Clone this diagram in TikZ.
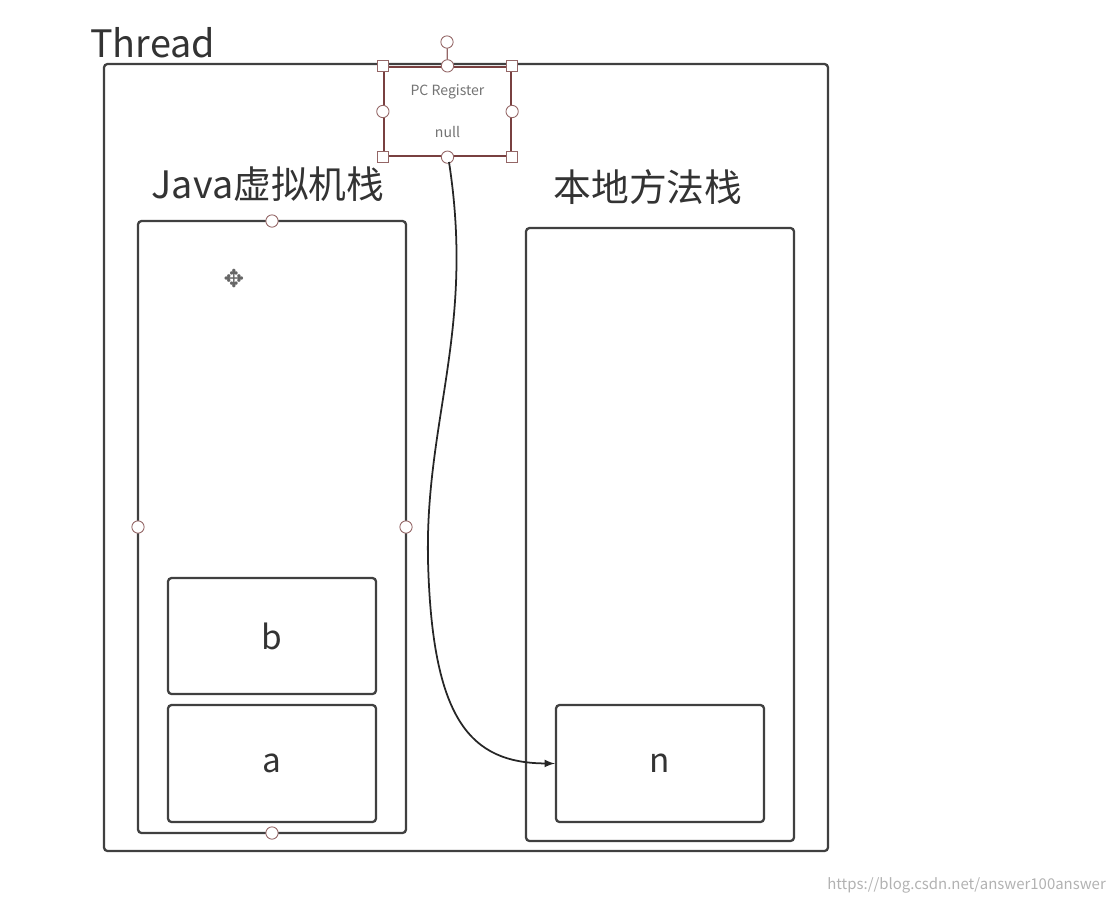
\documentclass[tikz,border=0pt]{standalone}
\usepackage{fontspec}
\setmainfont{Noto Sans CJK SC}
\newfontfamily\symfont{DejaVu Sans}
\begin{document}
\begin{tikzpicture}[x=0.02cm,y=-0.02cm,
  box/.style={draw=black!75,line width=1.3pt,rounded corners=2pt},
  hc/.style={draw=red!30!black!60,fill=white,line width=0.5pt,circle,inner sep=0pt,minimum size=7pt},
  hs/.style={draw=red!30!black!60,fill=white,line width=0.5pt,rectangle,inner sep=0pt,minimum size=6pt},
  lbl/.style={font=\fontsize{19}{20}\selectfont,text=black!80},
  big/.style={font=\fontsize{21.5}{24}\selectfont,text=black!80}]
\useasboundingbox (0,0) rectangle (1120,904);
\draw[box] (104,64) rectangle (828,851);
\node[anchor=south west,inner sep=0pt,font=\fontsize{21.5}{24}\selectfont,text=black!80] (thr) at (90,58) {Thread};
\draw[box] (138,221) rectangle (406,833);
\node[big] (jl) at (268,184) {Java虚拟机栈};
\draw[box] (526,228) rectangle (794,841);
\node[big] (nl) at (648,187) {本地方法栈};
\node[box,minimum width=208*0.02cm,minimum height=116*0.02cm,lbl] (b) at (272,636) {b};
\node[box,minimum width=208*0.02cm,minimum height=117*0.02cm,lbl] (a) at (272,763.5) {a};
\node[box,minimum width=208*0.02cm,minimum height=117*0.02cm,lbl] (n) at (660,763.5) {n};
\foreach \p in {(272,221),(138,527),(406,527),(272,833)} \node[hc] at \p {};
% PC register
\node[draw=red!30!black!75,line width=1.3pt,minimum width=127*0.02cm,minimum height=89*0.02cm,align=center,font=\fontsize{8}{24}\selectfont,text=black!55] (pc) at (447.5,111.5) {PC Register\\null};
\coordinate (top) at (447,42);
\draw[red!30!black!60,line width=0.7pt] (top) -- (pc.north);
\node[hc] at (top) {};
\foreach \p in {north west,north east,south west,south east} \node[hs] at (pc.\p) {};
\foreach \p in {north,south,east,west} \node[hc] at (pc.\p) {};
% move icon
\node[font=\symfont\fontsize{14}{14}\selectfont,text=black!60] (mv) at (234,279) {✥};
\draw[black!85,line width=1pt,-latex] (449,162) .. controls (475,330) and (425,420) .. (428,560) .. controls (432,720) and (470,763) .. (n.west);
\node[anchor=east,font=\fontsize{8.5}{10}\selectfont,text=black!30] (wm) at (1112,885) {https://blog.csdn.net/answer100answer};
\end{tikzpicture}
\end{document}
